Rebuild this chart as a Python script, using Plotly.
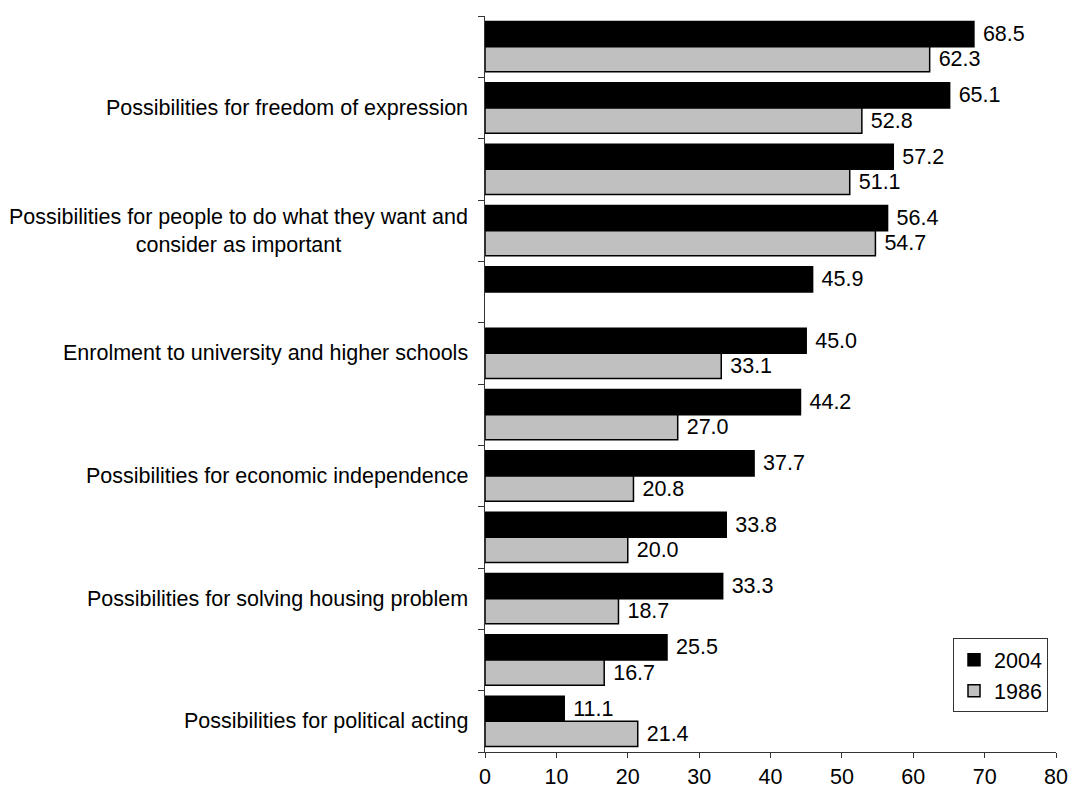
import plotly.graph_objects as go

# categories top to bottom; None = label not shown in the original chart
labels = [
    None,
    "Possibilities for freedom of expression",
    None,
    "Possibilities for people to do what they want and<br>consider as important",
    None,
    "Enrolment to university and higher schools",
    None,
    "Possibilities for economic independence",
    None,
    "Possibilities for solving housing problem",
    None,
    "Possibilities for political acting",
]
values_2004 = [68.5, 65.1, 57.2, 56.4, 45.9, 45.0, 44.2, 37.7, 33.8, 33.3, 25.5, 11.1]
values_1986 = [62.3, 52.8, 51.1, 54.7, None, 33.1, 27.0, 20.8, 20.0, 18.7, 16.7, 21.4]
x_ticks = [0, 10, 20, 30, 40, 50, 60, 70, 80]

FONT = "Liberation Sans, Arial, sans-serif"
FS = 21.5
pos = list(range(len(labels)))

fig = go.Figure()
for name, vals, color in [("2004", values_2004, "black"), ("1986", values_1986, "#c0c0c0")]:
    fig.add_trace(go.Bar(
        x=vals,
        y=pos,
        orientation="h",
        name=name,
        marker=dict(color=color, line=dict(color="black", width=1.5)),
        text=[f" {v:.1f}" if v is not None else "" for v in vals],
        textposition="outside",
        textfont=dict(family=FONT, size=FS, color="black"),
        constraintext="none",
        cliponaxis=False,
    ))

for i, lab in enumerate(labels):
    if lab:
        fig.add_annotation(
            x=0, xref="paper", y=i, yref="y",
            text=lab, showarrow=False,
            xanchor="right", yanchor="middle", align="center", xshift=-15,
            font=dict(family=FONT, size=FS, color="black"),
        )

fig.update_layout(
    width=1068, height=790,
    margin=dict(l=485, r=12, t=16, b=38, autoexpand=False),
    plot_bgcolor="white", paper_bgcolor="white",
    barmode="group", bargap=0.18, bargroupgap=0,
    font=dict(family=FONT, size=FS, color="black"),
    legend=dict(
        x=0.986, xanchor="right", y=0.054, yanchor="bottom",
        bordercolor="#333333", borderwidth=1, bgcolor="white",
        font=dict(family=FONT, size=FS), tracegroupgap=0,
    ),
    xaxis=dict(
        range=[0, 80], tickvals=x_ticks, showgrid=False, zeroline=False,
        showline=True, linecolor="#333333", linewidth=1,
        ticks="outside", ticklen=5, tickcolor="#333333",
        tickfont=dict(family=FONT, size=FS), automargin=False,
    ),
    yaxis=dict(
        range=[len(labels) - 0.5, -0.5], showgrid=False, zeroline=False,
        showline=True, linecolor="#333333", linewidth=1,
        tickvals=[p - 0.5 for p in pos] + [len(labels) - 0.5],
        ticktext=[""] * (len(labels) + 1),
        ticks="outside", ticklen=6, tickcolor="#333333", automargin=False,
    ),
)

# drop the default body margin so the figure fills the window exactly
fig.write_html(
    "out.html",
    config={"displayModeBar": False},
    post_script="document.body.style.margin='0';",
)
